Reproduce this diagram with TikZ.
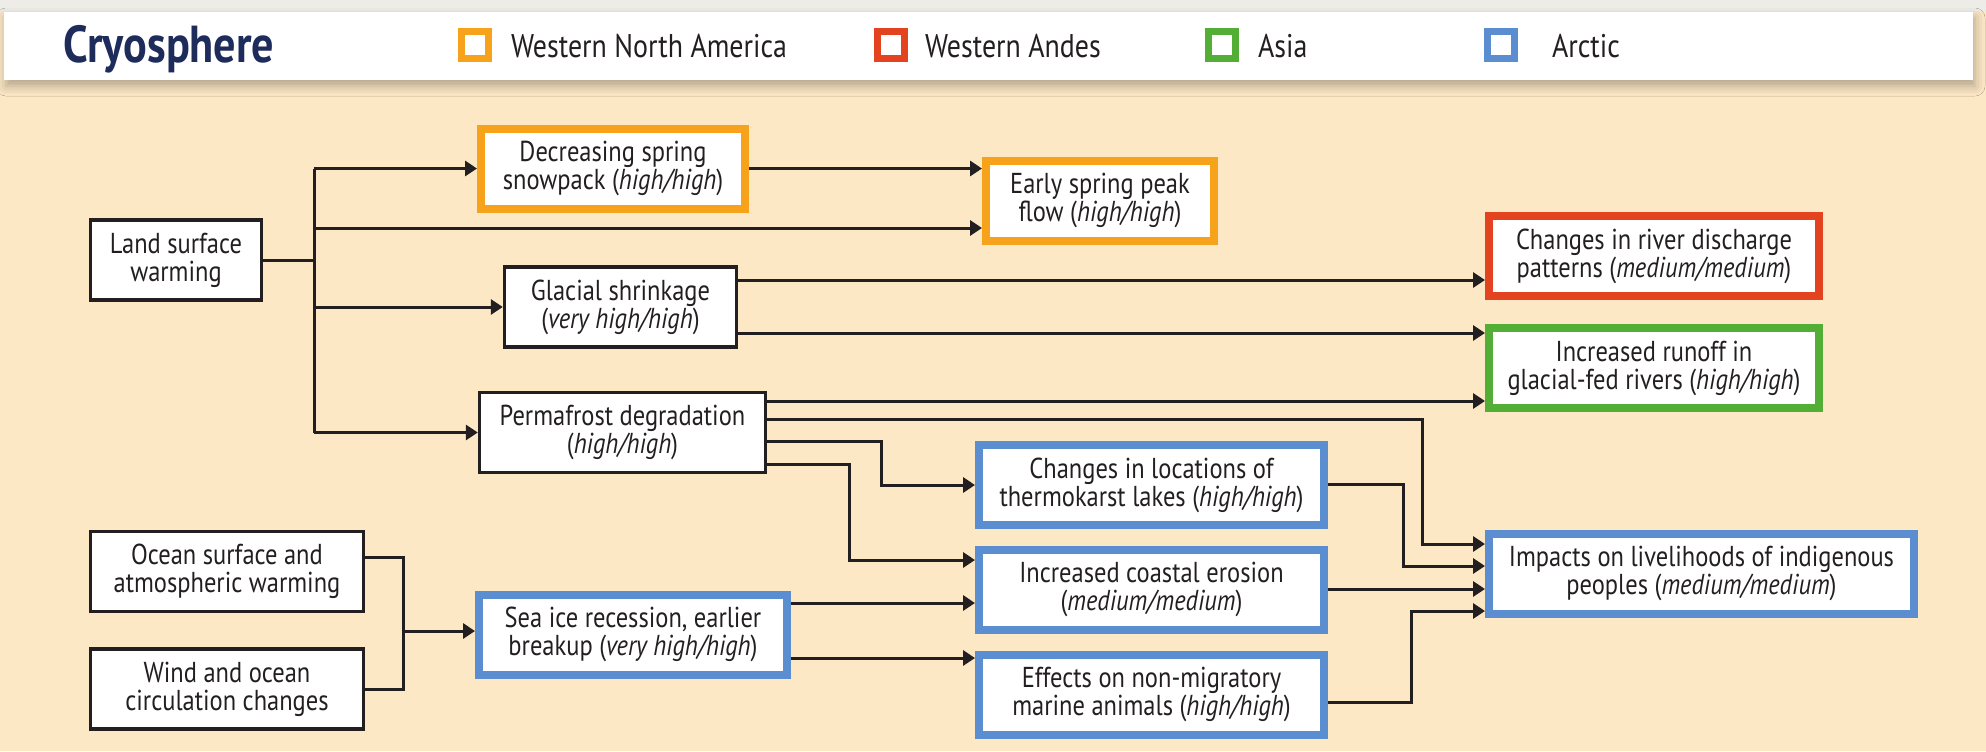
\documentclass[tikz,border=0pt]{standalone}
\usepackage{fontspec}
\setmainfont{PT Sans}[FakeStretch=0.85]
\usetikzlibrary{arrows.meta,shadows.blur}

\definecolor{bgbeige}{HTML}{FDE8C6}
\definecolor{topgray}{HTML}{EEECE7}
\definecolor{navy}{HTML}{1E2C5B}
\definecolor{ink}{HTML}{231F20}
\definecolor{wna}{HTML}{F7A21B}
\definecolor{andes}{HTML}{E4431F}
\definecolor{asia}{HTML}{52AE35}
\definecolor{arctic}{HTML}{5B8ED1}

\tikzset{
  box/.style={draw=ink, line width=1.7pt, fill=white, text=ink, align=center,
    inner sep=0pt, minimum height=40pt, font=\fontsize{14.4}{14}\selectfont},
  cbox/.style={box, draw=#1, line width=4pt},
  link/.style={draw=ink, line width=1.5pt},
  arr/.style={link, -{Triangle[length=6pt,width=7.5pt]}},
  key/.style={draw=#1, line width=3.5pt, fill=white, minimum size=13.5pt, inner sep=0pt},
}

\begin{document}
\begin{tikzpicture}[x=0.5pt,y=-0.5pt]
\useasboundingbox (0,0) rectangle (1986,751);
\fill[bgbeige] (0,0) rectangle (1986,751);
\fill[topgray] (0,0) rectangle (1986,12);

% header
\fill[white, blur shadow={shadow xshift=1pt, shadow yshift=-3pt, shadow blur radius=5pt, shadow opacity=30}] (4,12) rectangle (1973,80);
\node[anchor=base west, text=navy, font=\bfseries\fontsize{26}{30}\selectfont] (title) at (56,62) {Cryosphere};
\foreach \c/\sx/\tx/\t in {wna/475/504/Western North America, andes/890.5/918/Western Andes, asia/1221.5/1251/Asia, arctic/1500.5/1545/Arctic} {
\node[key=\c] (key-\c) at (\sx,44.5) {};
\node[anchor=base west, text=ink, font=\fontsize{16.4}{18}\selectfont] (lbl-\c) at (\tx,57) {\t};
}

% boxes
\node[box, minimum width=85.5pt] (lsw) at (176,260) {Land surface\\warming};
\node[cbox=wna, minimum width=132pt] (decr) at (613,168.5) {Decreasing spring\\snowpack (\textit{high/high})};
\node[cbox=wna, minimum width=114pt] (early) at (1100,200.5) {Early spring peak\\flow (\textit{high/high})};
\node[box, minimum width=116pt] (glac) at (620.5,307) {Glacial shrinkage\\(\textit{very high/high})};
\node[box, minimum width=143pt] (perm) at (622.5,432.5) {Permafrost degradation\\(\textit{high/high})};
\node[cbox=andes, minimum width=165pt] (river) at (1654,256) {Changes in river discharge\\patterns (\textit{medium/medium})};
\node[cbox=asia, minimum width=165pt] (runoff) at (1654,368) {Increased runoff in\\glacial-fed rivers (\textit{high/high})};
\node[cbox=arctic, minimum width=172.5pt] (thermo) at (1151.5,485) {Changes in locations of\\thermokarst lakes (\textit{high/high})};
\node[cbox=arctic, minimum width=172.5pt] (coast) at (1151.5,589.5) {Increased coastal erosion\\(\textit{medium/medium})};
\node[cbox=arctic, minimum width=172.5pt] (marine) at (1151.5,694.5) {Effects on non-migratory\\marine animals (\textit{high/high})};
\node[cbox=arctic, minimum width=212.5pt] (impacts) at (1701.5,573.5) {Impacts on livelihoods of indigenous\\peoples (\textit{medium/medium})};
\node[box, minimum width=136.5pt] (ocean) at (227,571.5) {Ocean surface and\\atmospheric warming};
\node[box, minimum width=136.5pt] (wind) at (227,689) {Wind and ocean\\circulation changes};
\node[cbox=arctic, minimum width=154pt] (seaice) at (633,634.5) {Sea ice recession, earlier\\breakup (\textit{very high/high})};

% land surface trunk
\coordinate (trunk) at (314,260);
\draw[link] (lsw.east) -- (trunk);
\draw[link] (trunk |- decr.west) -- (trunk |- perm.west);
\draw[arr] (trunk |- decr.west) -- (decr.west);
\draw[arr] (trunk |- 0,228) -- (early.west |- 0,228);
\draw[arr] (trunk |- glac.west) -- (glac.west);
\draw[arr] (trunk |- perm.west) -- (perm.west);
\draw[arr] (decr.east) -- (early.west |- decr.east);

% glacial
\draw[arr] (glac.east |- 0,280) -- (river.west |- 0,280);
\draw[arr] (glac.east |- 0,333) -- (runoff.west |- 0,333);

% permafrost
\draw[arr] (perm.east |- 0,401) -- (runoff.west |- 0,401);
\draw[arr] (perm.east |- 0,419) -| (1422,544) -- (impacts.west |- 0,544);
\draw[arr] (perm.east |- 0,441) -| (881,485) -- (thermo.west);
\draw[arr] (perm.east |- 0,464) -| (849,560) -- (coast.west |- 0,560);

% arctic effects
\draw[arr] (thermo.east |- 0,484) -| (1403,566) -- (impacts.west |- 0,566);
\draw[arr] (coast.east |- 0,589) -- (impacts.west |- 0,589);
\draw[arr] (marine.east |- 0,702) -| (1411,611) -- (impacts.west |- 0,611);

% ocean and sea ice
\coordinate (join) at (403,631);
\draw[link] (ocean.east |- 0,557) -| (join |- wind.east) -- (wind.east);
\draw[arr] (join) -- (seaice.west |- join);
\draw[arr] (seaice.east |- 0,603) -- (coast.west |- 0,603);
\draw[arr] (seaice.east |- 0,658) -- (marine.west |- 0,658);
\end{tikzpicture}
\end{document}
